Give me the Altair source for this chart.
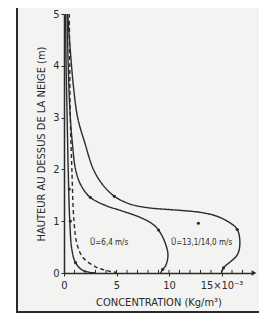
import altair as alt
import pandas as pd

# curve samples (concentration x1e-3 kg/m3, height m)
inner_x = [0.15, 0.2, 0.3, 0.4, 0.55, 0.75, 1.1, 1.8, 3.0]
inner_y = [5.0, 4.0, 3.0, 2.0, 1.0, 0.45, 0.2, 0.05, 0.0]

dash_x = [0.5, 0.55, 0.6, 0.75, 0.95, 1.25, 1.8, 3.0, 4.0, 5.0]
dash_y = [5.0, 4.0, 3.0, 2.0, 1.0, 0.55, 0.3, 0.12, 0.05, 0.01]

u64_x = [0.3, 0.4, 0.6, 0.8, 1.1, 1.6, 2.5, 4.0, 5.5, 7.3, 8.4, 9.0, 9.6, 9.9, 9.7, 9.4, 9.2]
u64_y = [5.0, 4.0, 3.0, 2.5, 2.0, 1.7, 1.46, 1.3, 1.2, 1.07, 0.95, 0.83, 0.6, 0.35, 0.15, 0.07, 0.0]

u13_x = [0.35, 0.6, 0.9, 1.3, 2.0, 2.8, 3.7, 4.8, 6.3, 8.0, 11.0, 13.0, 14.5, 15.8, 16.5, 16.75, 16.5, 15.2, 15.0]
u13_y = [5.0, 4.3, 3.6, 3.0, 2.5, 2.0, 1.7, 1.48, 1.33, 1.26, 1.21, 1.17, 1.1, 0.97, 0.84, 0.58, 0.35, 0.1, 0.0]

# measured points
pt_x = [0.5, 0.6, 1.1, 2.5, 9.0, 9.4, 4.8, 12.8, 16.5, 15.2]
pt_y = [1.62, 1.0, 0.2, 1.46, 0.83, 0.07, 1.48, 0.96, 0.84, 0.1]

label_text = ["Ū=6,4 m/s", "Ū=13,1/14,0 m/s"]
label_x = [4.3, 13.1]
label_y = [0.58, 0.58]

x_major = [0, 5, 10, 15]
x_minor = list(range(1, 18))
y_ticks = [0, 0.5, 1, 1.5, 2, 2.5, 3, 3.5, 4, 4.5, 5]

rows = []
for name, xs_, ys_ in [("inner", inner_x, inner_y), ("dash", dash_x, dash_y),
                       ("u64", u64_x, u64_y), ("u13", u13_x, u13_y)]:
    for i, (a, b) in enumerate(zip(xs_, ys_)):
        rows.append({"s": name, "x": a, "y": b, "o": i})
curves = pd.DataFrame(rows)
pts = pd.DataFrame({"x": pt_x, "y": pt_y})
labs = pd.DataFrame({"t": label_text, "x": label_x, "y": label_y})
minor = pd.DataFrame({"x": x_minor})

FONT = "Liberation Sans Narrow, DejaVu Sans Condensed, sans-serif"
INK = "#2b2b2b"

xs = alt.Scale(domain=[0, 18], nice=False)
ys = alt.Scale(domain=[0, 5], nice=False)

frame = alt.Chart(pd.DataFrame({"a": [0]})).mark_rect(
    fill="#f3f3f1", stroke="#2a2a2a", strokeWidth=2
).encode(x=alt.value(-47), x2=alt.value(215), y=alt.value(-8), y2=alt.value(298))

xaxis = alt.Axis(values=x_major,
                 labelExpr="datum.value == 15 ? '15×10⁻³' : datum.label",
                 title="CONCENTRATION (Kg/m³)", titleFont=FONT, titleFontSize=11,
                 titleFontWeight="normal", titleColor=INK, titlePadding=6,
                 labelFont=FONT, labelFontSize=11, labelColor=INK, labelPadding=3,
                 domainColor=INK, domainWidth=1.5, tickColor=INK, tickSize=3,
                 grid=False, labelFlush=False, zindex=1)
yaxis = alt.Axis(values=y_ticks, labelExpr="datum.value % 1 == 0 ? datum.label : ''",
                 labelOverlap=False,
                 title="HAUTEUR AU DESSUS DE LA NEIGE (m)",
                 titleFont=FONT, titleFontSize=11, titleFontWeight="normal",
                 titleColor=INK, titlePadding=6,
                 labelFont=FONT, labelFontSize=11, labelColor=INK, labelPadding=2,
                 labelBaseline="middle",
                 domainColor=INK, domainWidth=1.5, tickColor=INK, tickSize=3,
                 grid=False, labelFlush=False, zindex=1)

lines = alt.Chart(curves).mark_line(interpolate="catmull-rom", color=INK, strokeWidth=1.4).encode(
    x=alt.X("x:Q", scale=xs, axis=xaxis),
    y=alt.Y("y:Q", scale=ys, axis=yaxis),
    detail="s:N",
    order="o:Q",
    strokeDash=alt.StrokeDash("s:N", scale=alt.Scale(domain=["inner", "dash", "u64", "u13"],
                                                  range=[[1, 0], [4, 3], [1, 0], [1, 0]]),
                              legend=None),
)

ticks = alt.Chart(minor).mark_rule(color=INK, strokeWidth=1).encode(
    x=alt.X("x:Q", scale=xs), y=alt.datum(0), y2=alt.datum(0.06))

dots = alt.Chart(pts).mark_circle(color=INK, size=10, opacity=1).encode(
    x=alt.X("x:Q", scale=xs), y=alt.Y("y:Q", scale=ys))

texts = alt.Chart(labs).mark_text(font=FONT, fontSize=8, color=INK).encode(
    x=alt.X("x:Q", scale=xs), y=alt.Y("y:Q", scale=ys), text="t:N")

arrow = alt.Chart(pd.DataFrame({"a": [0]})).mark_point(
    shape="triangle-right", filled=True, color=INK, size=30, opacity=1
).encode(x=alt.value(190), y=alt.value(259))

chart = alt.layer(frame, lines, ticks, dots, texts, arrow).properties(
    width=189, height=259,
    autosize=alt.AutoSizeParams(type="none"),
    padding={"left": 56, "top": 6, "right": 6, "bottom": 41},
    background="white",
).configure_view(stroke=None)

chart.save("out.html", embed_options={"renderer": "svg", "actions": False})
